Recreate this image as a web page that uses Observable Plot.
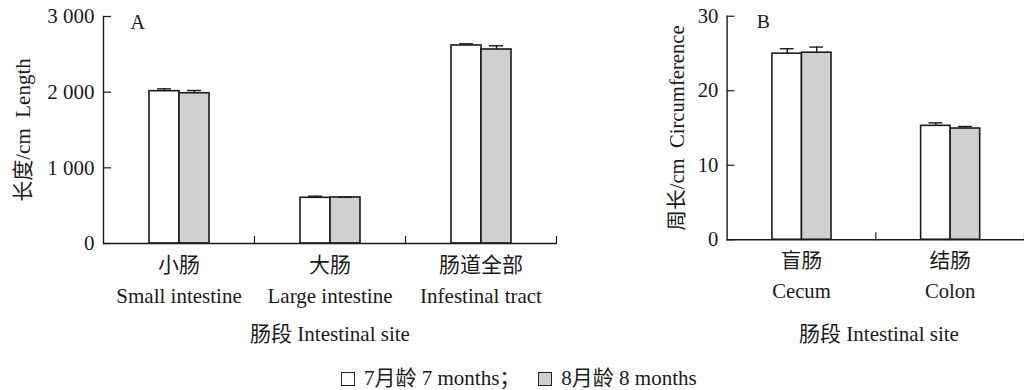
<!DOCTYPE html>
<html><head><meta charset="utf-8">
<script src="https://cdn.jsdelivr.net/npm/d3@7"></script>
<script src="https://cdn.jsdelivr.net/npm/@observablehq/plot@0.6"></script>
<style>
html,body{margin:0;padding:0;background:#fff;overflow:hidden}
#wrap{position:relative;width:1024px;height:390px;overflow:hidden;font-family:'Liberation Serif','Noto Sans CJK SC',serif;color:#1a1a1a}
#a{position:absolute;left:0;top:0}
#b{position:absolute;left:640px;top:0}
.xt{position:absolute;font-size:21px;line-height:21px;white-space:nowrap;transform:translateX(-50%)}
#legend{position:absolute;top:368px;left:341px;font-size:21px;line-height:21px;white-space:nowrap;display:flex;align-items:center}
.sw{display:inline-block;width:12px;height:12px;border:1.5px solid #222;margin-right:9px}
</style></head><body>
<div id="wrap">
  <div id="a"></div>
  <div id="b"></div>
  <div class="xt" id="ta" style="left:330px;top:324px"></div>
  <div class="xt" id="tb" style="left:879px;top:324px"></div>
  <div id="legend"></div>
</div>
<script>
// ---- data ----
const seriesNames = ["7月龄 7 months", "8月龄 8 months"];

const sitesA_zh = ["小肠", "大肠", "肠道全部"];
const sitesA_en = ["Small intestine", "Large intestine", "Infestinal tract"];
const lengthA_7 = [2013, 604, 2617];
const lengthA_7se = [31, 21, 22];
const lengthA_8 = [1986, 608, 2564];
const lengthA_8se = [36, 3, 49];
const yTicksA = [0, 1000, 2000, 3000];
const yTickLabelsA = ["0", "1 000", "2 000", "3 000"];

const sitesB_zh = ["盲肠", "结肠"];
const sitesB_en = ["Cecum", "Colon"];
const circB_7 = [24.98, 15.29];
const circB_7se = [0.66, 0.40];
const circB_8 = [25.11, 14.93];
const circB_8se = [0.75, 0.27];
const yTicksB = [0, 10, 20, 30];
const yTickLabelsB = ["0", "10", "20", "30"];

const xTitle = "肠段 Intestinal site";
const yTitleA = "长度/cm  Length";
const yTitleB = "周长/cm  Circumference";

// ---- styles ----
const fills = ["#ffffff", "#d0d0d2"];
const ink = "#1a1a1a";
const FONT = "'Liberation Serif','Noto Sans CJK SC',serif";

function rowsOf(zh, v7, s7, v8, s8) {
  const rows = [];
  zh.forEach((site, i) => {
    rows.push({site, series: seriesNames[0], value: v7[i], se: s7[i]});
    rows.push({site, series: seriesNames[1], value: v8[i], se: s8[i]});
  });
  return rows;
}

function panel(o) {
  const rows = rowsOf(o.zh, o.v7, o.s7, o.v8, o.s8);
  const H = 310, mt = 16, mb = 67;
  const frameH = H - mt - mb;
  return Plot.plot({
    width: o.width, height: H,
    marginTop: mt, marginBottom: mb, marginLeft: o.ml, marginRight: o.mr,
    style: {fontFamily: FONT, fontSize: "21px", color: ink, background: "transparent", overflow: "visible"},
    fx: {domain: o.zh, padding: 0, label: null},
    x: {domain: seriesNames, paddingInner: 0, paddingOuter: 1.47, axis: null},
    y: {domain: [0, o.yMax]},
    color: {domain: seriesNames, range: fills},
    marks: [
      Plot.barY(rows, {fx: "site", x: "series", y: "value", fill: "series", stroke: ink, strokeWidth: 1.6}),
      Plot.ruleX(rows, {fx: "site", x: "series", y1: "value", y2: d => d.value + d.se, stroke: ink, strokeWidth: 1.4}),
      Plot.tickY(rows, {fx: "site", x: "series", y: d => d.value + d.se, stroke: ink, strokeWidth: 1.4, inset: 8}),
      Plot.ruleY([0], {stroke: ink, strokeWidth: 1.4}),
      Plot.frame({anchor: "left", facetAnchor: "left", stroke: ink, strokeWidth: 1.4}),
      Plot.frame({anchor: "right", insetTop: frameH - 7, stroke: ink, strokeWidth: 1.2}),
      Plot.axisY({
        ticks: o.ticks,
        tickFormat: d => o.tickLabels[o.ticks.indexOf(d)],
        tickSize: -8, tickPadding: 17, fontSize: 21, stroke: ink, strokeWidth: 1.2,
        label: o.yLabel, labelAnchor: "center", labelOffset: o.labelOffset, labelArrow: "none"
      }),
      Plot.axisFx({
        anchor: "bottom", tickSize: 0, tickPadding: 7, fontSize: 21, lineHeight: 1.45, label: null,
        tickFormat: d => d + "\n" + o.en[o.zh.indexOf(d)]
      }),
      Plot.text([o.letter], {fx: [o.zh[0]], frameAnchor: "top-left", dx: o.letterDx, dy: -2, textAnchor: "start", fontSize: 20})
    ]
  });
}

document.getElementById("a").append(panel({
  zh: sitesA_zh, en: sitesA_en, v7: lengthA_7, s7: lengthA_7se, v8: lengthA_8, s8: lengthA_8se,
  yMax: 3000, ticks: yTicksA, tickLabels: yTickLabelsA, yLabel: yTitleA, letter: "A",
  width: 558, ml: 103, mr: 2, labelOffset: 88, letterDx: 27
}));
document.getElementById("b").append(panel({
  zh: sitesB_zh, en: sitesB_en, v7: circB_7, s7: circB_7se, v8: circB_8, s8: circB_8se,
  yMax: 30, ticks: yTicksB, tickLabels: yTickLabelsB, yLabel: yTitleB, letter: "B",
  width: 390, ml: 88, mr: 0, labelOffset: 59, letterDx: 30
}));

document.getElementById("ta").textContent = xTitle;
document.getElementById("tb").textContent = xTitle;

const lg = document.getElementById("legend");
seriesNames.forEach((name, i) => {
  const sw = document.createElement("span");
  sw.className = "sw";
  sw.style.background = fills[i];
  if (i > 0) sw.style.marginLeft = "18px";
  lg.append(sw);
  const t = document.createElement("span");
  t.textContent = name + (i < seriesNames.length - 1 ? "；" : "");
  lg.append(t);
});
</script>
</body></html>
